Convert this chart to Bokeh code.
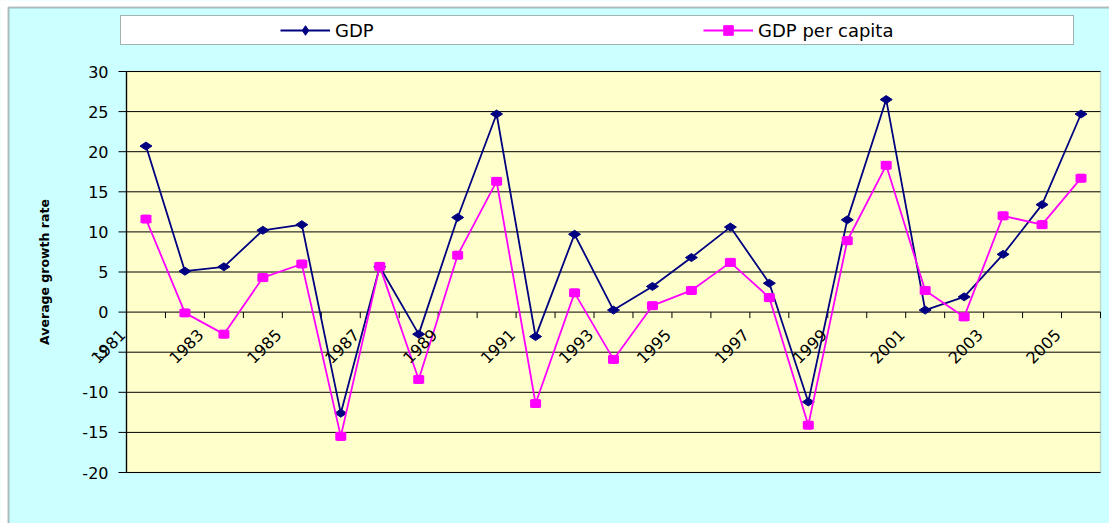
import math

from bokeh.core.properties import value
from bokeh.embed import file_html
from bokeh.models import (BoxAnnotation, ColumnDataSource, Label, LabelSet,
                          Legend, LegendItem, Range1d)
from bokeh.plotting import figure
from bokeh.resources import INLINE

# Annual growth rates (%)
years = [str(y) for y in range(1981, 2006)]
gdp = [20.7, 5.1, 5.65, 10.2, 10.9, -12.6, 5.65, -2.75, 11.8, 24.7, -3.05, 9.7, 0.25,
       3.2, 6.8, 10.6, 3.6, -11.2, 11.5, 26.5, 0.25, 1.9, 7.2, 13.4, 24.7]
gdp_per_capita = [11.6, -0.1, -2.75, 4.3, 6.0, -15.5, 5.7, -8.4, 7.1, 16.3, -11.4, 2.4,
                  -5.9, 0.8, 2.7, 6.2, 1.8, -14.1, 8.9, 18.3, 2.7, -0.6, 12.0, 10.9, 16.7]
y_ticks = [-20, -15, -10, -5, 0, 5, 10, 15, 20, 25, 30]

NAVY = "#000080"
MAGENTA = "#FF00FF"
FONT = "DejaVu Sans"

# canvas and plot-area geometry (pixels)
W, H = 1109, 523
PL, PR, PT, PB = 126, 1100, 71, 472

n = len(years)
x_lo, x_hi = -0.5, n - 0.5
y_lo, y_hi = y_ticks[0], y_ticks[-1]
ux = (x_hi - x_lo) / (PR - PL)      # data units per pixel, x
uy = (y_hi - y_lo) / (PB - PT)      # data units per pixel, y

p = figure(width=W, height=H,
           x_range=Range1d(x_lo - PL * ux, x_hi + (W - PR) * ux),
           y_range=Range1d(y_lo - (H - PB) * uy, y_hi + PT * uy),
           output_backend="svg", toolbar_location=None,
           x_axis_location=None, y_axis_location=None, min_border=0,
           background_fill_color="#CCFFFF", border_fill_color="#CCFFFF",
           outline_line_color=None)
p.grid.visible = False

# plot area
p.add_layout(BoxAnnotation(left=x_lo, right=x_hi, bottom=y_lo, top=y_hi,
                           fill_color="#FFFFCC", fill_alpha=1,
                           line_color="#808080", line_width=1.5, level="underlay"))

# horizontal gridlines
p.segment(x0=[x_lo] * len(y_ticks), y0=y_ticks, x1=[x_hi] * len(y_ticks), y1=y_ticks,
          line_color="black", line_width=1)

# value axis on the left edge of the plot area
p.segment(x0=[x_lo], y0=[y_lo], x1=[x_lo], y1=[y_hi], line_color="black", line_width=1.3)
p.segment(x0=[x_lo - 8 * ux] * len(y_ticks), y0=y_ticks,
          x1=[x_lo] * len(y_ticks), y1=y_ticks, line_color="black", line_width=1)
ytick_src = ColumnDataSource(dict(x=[x_lo] * len(y_ticks), y=y_ticks,
                                  t=[str(v) for v in y_ticks]))
p.add_layout(LabelSet(x="x", y="y", text="t", source=ytick_src, x_offset=-18,
                      text_align="right", text_baseline="middle",
                      text_font=value(FONT), text_font_size=value("16px"),
                      text_color="black"))

# category axis along the zero line: tick marks between categories
bounds = [i + 0.5 for i in range(-1, n)]
p.segment(x0=bounds, y0=[0] * len(bounds), x1=bounds, y1=[-6 * uy] * len(bounds),
          line_color="black", line_width=1)

idx = list(range(n))
src = ColumnDataSource(dict(x=idx, gdp=gdp, pc=gdp_per_capita))

# series
gdp_line = p.line("x", "gdp", source=src, line_color=NAVY, line_width=1.8)
gdp_pts = p.scatter("x", "gdp", source=src, marker="diamond", size=12,
                    angle=math.pi / 2, fill_color=NAVY, line_color=NAVY)
pc_line = p.line("x", "pc", source=src, line_color=MAGENTA, line_width=1.8)
pc_pts = p.scatter("x", "pc", source=src, marker="square", size=8,
                   fill_color=MAGENTA, line_color=MAGENTA)
p.rect("x", "pc", source=src, width=11, height=8, width_units="screen",
       height_units="screen", fill_color=MAGENTA, line_color=None)

# every other year, slanted, hanging below the zero line
lab_src = ColumnDataSource(dict(x=idx[::2], y=[0] * len(idx[::2]), t=years[::2]))
p.add_layout(LabelSet(x="x", y="y", text="t", source=lab_src, angle=math.pi / 4,
                      x_offset=-23.4, y_offset=-19.7, text_align="right",
                      text_baseline="middle", text_font=value(FONT),
                      text_font_size=value("16px"), text_color="black"))

# axis title, centred on the plot area
p.add_layout(Label(x=44, y=H - (PT + PB) / 2, x_units="screen", y_units="screen",
                   text="Average growth rate", angle=math.pi / 2,
                   text_align="center", text_baseline="middle",
                   text_font=FONT, text_font_style="bold",
                   text_font_size="12.5px", text_color="black"))

# white margin and dark border around the chart area
for kw in (dict(left=-10, right=W + 10, top=H + 10, bottom=H - 7),
           dict(left=-10, right=8, top=H + 10, bottom=-10)):
    p.add_layout(BoxAnnotation(left_units="screen", right_units="screen",
                               top_units="screen", bottom_units="screen",
                               fill_color="white", fill_alpha=1, line_color=None,
                               level="underlay", **kw))
p.add_layout(BoxAnnotation(left=8, right=W + 20, top=H - 7, bottom=-20,
                           left_units="screen", right_units="screen",
                           top_units="screen", bottom_units="screen",
                           fill_alpha=0, line_color="#222222", line_width=2,
                           level="underlay"))

# legend box
p.add_layout(BoxAnnotation(left=120, right=1073, top=H - 15, bottom=H - 44,
                           left_units="screen", right_units="screen",
                           top_units="screen", bottom_units="screen",
                           fill_color="white", fill_alpha=1,
                           line_color="black", line_width=1, level="underlay"))

legend = Legend(items=[LegendItem(label="GDP", renderers=[gdp_line, gdp_pts]),
                       LegendItem(label="GDP per capita", renderers=[pc_line, pc_pts])],
                orientation="horizontal", location=(280, H - 42), padding=0,
                spacing=0, margin=0, glyph_width=50, glyph_height=24,
                label_standoff=5, label_width=368,
                background_fill_alpha=0, border_line_alpha=0,
                label_text_font=FONT, label_text_font_size="18px",
                label_text_color="black")
p.add_layout(legend)

open("out.html", "w").write(file_html(p, INLINE))
